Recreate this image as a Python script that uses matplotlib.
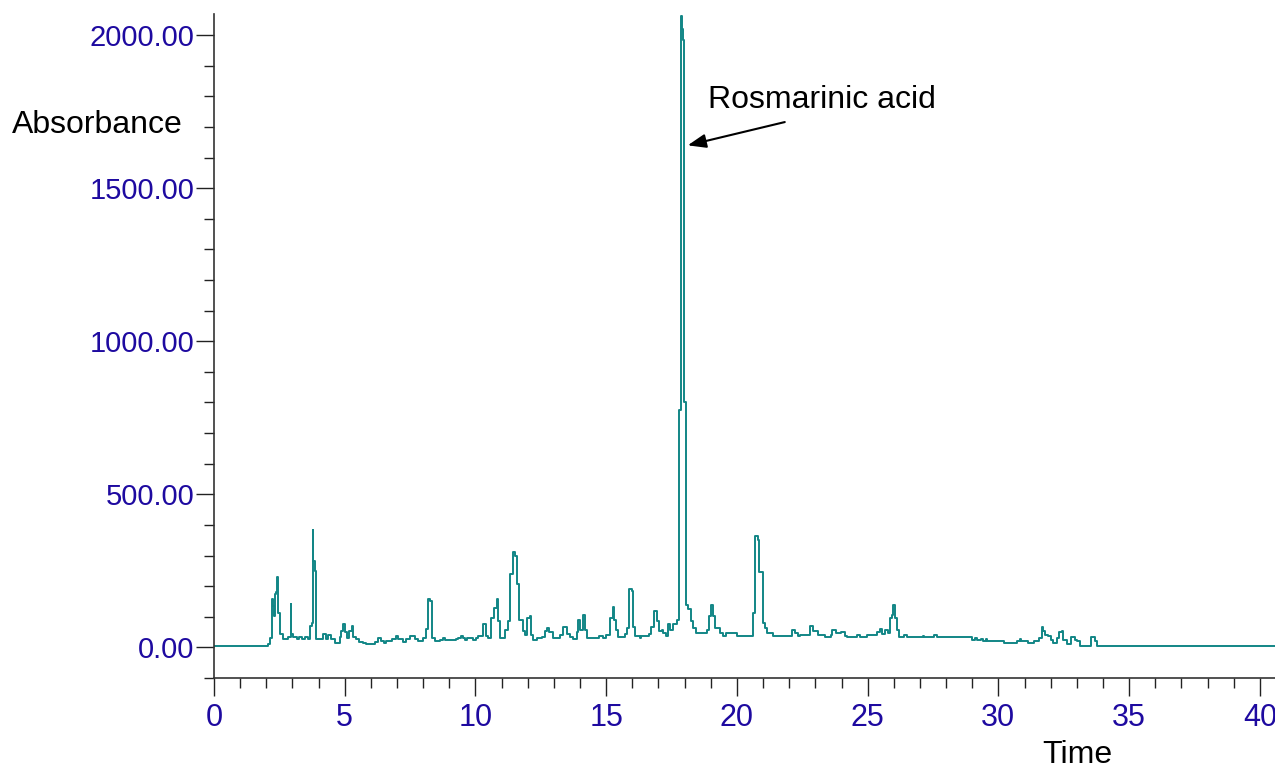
import matplotlib
matplotlib.use("Agg")
import matplotlib.pyplot as plt
from matplotlib.ticker import MultipleLocator, FixedLocator, FormatStrFormatter

plt.rcParams['font.family'] = ['Liberation Sans', 'DejaVu Sans']

# Retention time (min) where each step level begins, and absorbance level
time = [
    0.00, 2.07, 2.14, 2.20, 2.26, 2.30, 2.33, 2.39, 2.41, 2.43, 2.54, 2.64, 2.83, 2.93, 2.96,
    3.03, 3.16, 3.26, 3.35, 3.48, 3.60, 3.67, 3.73, 3.77, 3.79, 3.86, 3.89, 4.17, 4.30, 4.36,
    4.49, 4.62, 4.81, 4.87, 4.93, 5.01, 5.09, 5.17, 5.26, 5.32, 5.45, 5.55, 5.70, 5.83, 6.15,
    6.27, 6.40, 6.49, 6.59, 6.82, 6.95, 7.04, 7.21, 7.36, 7.51, 7.67, 7.80, 7.99, 8.09, 8.19,
    8.28, 8.34, 8.44,
    8.63, 8.74, 8.82, 9.27, 9.34, 9.43, 9.51, 9.59, 9.68, 9.91, 10.01, 10.10, 10.29, 10.42,
    10.48, 10.61, 10.71, 10.82, 10.86, 10.92, 11.12, 11.25, 11.34, 11.44, 11.50, 11.59, 11.67,
    11.80, 11.88, 11.97, 12.08, 12.11, 12.21, 12.34, 12.53, 12.65, 12.72, 12.82, 12.95, 13.23,
    13.36, 13.49, 13.61, 13.72, 13.87, 13.93, 13.99, 14.10, 14.18, 14.27, 14.73, 14.88, 15.01,
    15.14, 15.25, 15.30, 15.37, 15.46,
    15.71, 15.78, 15.88, 15.97, 16.01, 16.09, 16.31, 16.35, 16.64, 16.73, 16.83, 16.92, 16.95,
    17.03, 17.12, 17.18, 17.27, 17.37, 17.43, 17.56, 17.69, 17.78, 17.87, 17.91, 17.95, 17.99,
    18.06, 18.13, 18.23, 18.32, 18.42, 18.84, 18.94, 19.01, 19.08, 19.15, 19.35, 19.48, 19.58,
    19.99, 20.62, 20.71, 20.82, 20.85, 20.98, 21.07, 21.14, 21.39, 22.09, 22.21, 22.34,
    22.41, 22.79, 22.92, 23.12, 23.37, 23.59, 23.65, 23.79, 23.98, 24.13, 24.20, 24.60, 24.70,
    24.96, 25.35, 25.47, 25.54, 25.66, 25.79, 25.85, 25.93, 25.98, 26.04, 26.13, 26.19, 26.38,
    26.51, 27.10, 27.15, 27.54, 27.66, 29.01, 29.10, 29.18,
    29.34, 29.43, 29.53, 29.58, 30.21, 30.72, 30.82, 30.85, 31.15, 31.36, 31.56, 31.66, 31.72,
    31.78, 31.91, 32.00, 32.10, 32.23, 32.30, 32.42, 32.48, 32.63, 32.79, 32.92, 33.01, 33.11,
    33.54, 33.69, 33.78, 40.58,
]
absorbance = [
    5, 12, 30, 158, 135, 102, 174, 180, 230, 112, 43, 26, 35, 141, 45,
    35, 26, 35, 26, 35, 26, 69, 80, 385, 283, 250, 26, 45, 26, 40,
    26, 14, 35, 55, 76, 50, 30, 55, 70, 35, 26, 16, 14, 10, 16,
    30, 20, 14, 20, 26, 38, 26, 16, 26, 38, 26, 20, 30, 60, 158,
    152, 30, 20,
    23, 31, 23, 26, 31, 38, 30, 23, 31, 23, 31, 38, 78, 38,
    31, 96, 129, 157, 86, 31, 58, 86, 240, 310, 299, 206, 91,
    53, 40, 96, 102, 40, 23, 31, 35, 55, 64, 50, 31, 40,
    65, 45, 35, 28, 50, 89, 58, 105, 58, 31, 38, 31, 40,
    96, 132, 90, 58, 35,
    45, 64, 192, 185, 66, 36, 32, 36, 45, 66, 118, 120, 86,
    53, 58, 47, 36, 77, 58, 75, 88, 775, 2062, 2020, 1984, 800,
    140, 124, 86, 64, 47, 58, 102, 138, 102, 64, 47, 36, 47,
    36, 113, 365, 350, 245, 80, 64, 47, 36, 58, 47, 36,
    42, 69, 55, 42, 33, 42, 58, 47, 49, 36, 33, 42, 33,
    42, 50, 60, 44, 58, 47, 96, 105, 138, 96, 58, 33, 42,
    33, 38, 33, 42, 33, 25, 30, 25,
    29, 22, 29, 22, 13, 22, 29, 22, 13, 22, 31, 66, 55,
    39, 36, 25, 13, 31, 50, 55, 25, 11, 33, 25, 20, 5,
    33, 20, 5, 5,
]

x_major = [0, 5, 10, 15, 20, 25, 30, 35, 40]
y_major = [0, 500, 1000, 1500, 2000]

W, H = 1275, 773
fig = plt.figure(figsize=(W / 100, H / 100), dpi=100)
ax = fig.add_axes([214 / W, (H - 678) / H, 1 - 214 / W, (678 - 14) / H])

ax.plot(time, absorbance, drawstyle='steps-post', color='#128686', lw=1.4)

ax.set_xlim(0, 40.58)
ax.set_ylim(-100, 2069)

for s in ['top', 'right']:
    ax.spines[s].set_visible(False)
for s in ['left', 'bottom']:
    ax.spines[s].set_color('#333333')
    ax.spines[s].set_linewidth(1.2)

ax.xaxis.set_major_locator(FixedLocator(x_major))
ax.xaxis.set_minor_locator(MultipleLocator(1))
ax.yaxis.set_major_locator(FixedLocator(y_major))
ax.yaxis.set_major_formatter(FormatStrFormatter('%.2f'))
ax.yaxis.set_minor_locator(MultipleLocator(100))

tick_color = '#1e0aa0'
ax.tick_params(which='major', direction='out', length=13, width=1.0, color='#222222',
               labelsize=21, labelcolor=tick_color)
ax.tick_params(which='minor', direction='out', length=7, width=1.0, color='#222222')
ax.tick_params(axis='y', which='major', pad=1)
ax.tick_params(axis='x', which='major', pad=5, labelsize=22)

fig.text(12 / W, 1 - 125 / H, 'Absorbance', fontsize=23, color='black', ha='left', va='center')
fig.text(1077 / W, 1 - 755 / H, 'Time', fontsize=23, color='black', ha='center', va='center')

ax.text(18.89, 1788, 'Rosmarinic acid', fontsize=23, color='black', ha='left', va='center')
ax.annotate('', xy=(18.12, 1640), xytext=(21.83, 1716),
            arrowprops=dict(arrowstyle='-|>,head_length=1.1,head_width=0.42', color='black',
                            lw=1.5, shrinkA=0, shrinkB=0))

fig.savefig('out.png', dpi=100)
